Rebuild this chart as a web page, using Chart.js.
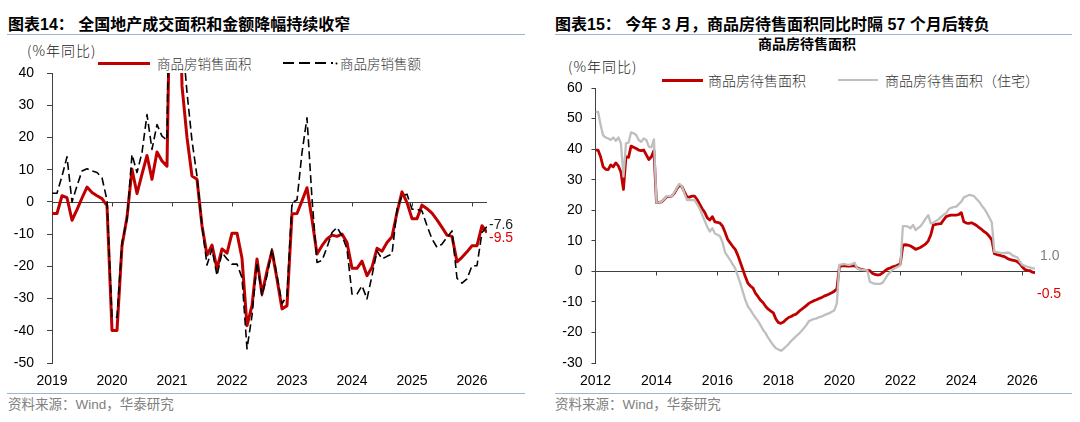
<!DOCTYPE html>
<html><head><meta charset="utf-8">
<script src="https://cdn.jsdelivr.net/npm/chart.js@4.4.1/dist/chart.umd.min.js"></script>
<style>
html,body{margin:0;padding:0;background:#fff;width:1080px;height:422px;overflow:hidden;font-family:"Liberation Sans","Noto Sans CJK SC",sans-serif;}
.abs{position:absolute;white-space:nowrap;}
.title{font-weight:bold;font-size:16px;line-height:16px;color:#000;}
.rule{position:absolute;height:1px;background:#9DB4D6;}
.unit{font-size:14px;line-height:14px;color:#222;letter-spacing:1px;font-family:"Noto Sans CJK SC",sans-serif;font-weight:300;}
.leg{font-size:13.5px;line-height:14px;color:#333;font-family:"Noto Sans CJK SC",sans-serif;font-weight:300;}
.src{font-size:13.5px;line-height:14px;color:#808080;}
.box{position:absolute;}
</style>
</head><body>
<div class="abs title" style="left:8px;top:17px;">图表14：&nbsp;全国地产成交面积和金额降幅持续收窄</div>
<div class="abs title" style="left:555px;top:17px;">图表15：&nbsp;今年 3 月，商品房待售面积同比时隔 57 个月后转负</div>
<div class="rule" style="left:7px;top:34px;width:518px;"></div>
<div class="rule" style="left:555px;top:34px;width:517px;"></div>
<div class="rule" style="left:7px;top:393px;width:518px;"></div>
<div class="rule" style="left:555px;top:393px;width:517px;"></div>
<div class="abs src" style="left:8px;top:398px;">资料来源：Wind，华泰研究</div>
<div class="abs src" style="left:555px;top:398px;">资料来源：Wind，华泰研究</div>

<div class="abs unit" style="left:27px;top:43px;">(%年同比)</div>
<div class="abs" style="left:98px;top:62px;width:52px;height:3px;background:#C00000;"></div>
<div class="abs leg" style="left:157px;top:56px;">商品房销售面积</div>
<svg class="abs" style="left:283px;top:58px;" width="56" height="10"><line x1="0" y1="5" x2="50" y2="5" stroke="#000" stroke-width="1.8" stroke-dasharray="11,5"/><circle cx="53.5" cy="5.5" r="1" fill="#000"/></svg>
<div class="abs leg" style="left:340px;top:56px;">商品房销售额</div>

<div class="abs" style="left:758px;top:37px;font-size:14px;line-height:14px;font-weight:bold;color:#000;">商品房待售面积</div>
<div class="abs unit" style="left:568px;top:59px;">(%年同比)</div>
<div class="abs" style="left:662px;top:79px;width:41px;height:3px;background:#C00000;"></div>
<div class="abs leg" style="left:708px;top:73px;font-size:14px;">商品房待售面积</div>
<div class="abs" style="left:838px;top:79px;width:40px;height:2px;background:#BFBFBF;"></div>
<div class="abs leg" style="left:885px;top:73px;font-size:14px;">商品房待售面积（住宅）</div>

<div class="box" style="left:0;top:60px;width:540px;height:330px;"><canvas id="c1"></canvas></div>
<div class="box" style="left:540px;top:75px;width:540px;height:315px;"><canvas id="c2"></canvas></div>

<script>
// ---------- Chart 14 data (monthly, from 2019-01) ----------
const years14 = ['2019','2020','2021','2022','2023','2024','2025','2026'];
const salesArea = [
 -3.6,-3.6,1.9,1.3,-5.7,-2.4,1.2,4.6,2.9,1.9,1.0,-1.2,
 -39.9,-39.9,-13.6,-4.8,10.1,2.6,8.6,14.4,7.0,15.5,12.7,11.1,
 104.9,104.9,36.0,20.0,8.0,7.0,-7.4,-16.5,-13.4,-20.8,-14.6,-15.9,
 -9.7,-9.7,-17.5,-38.4,-32.2,-17.7,-28.6,-21.5,-15.2,-23.9,-33.2,-32.2,
 -3.7,-3.6,0.3,4.4,-5.4,-16.2,-13.6,-11.5,-10.3,-10.7,-10.0,-12.6,
 -20.6,-20.6,-18.4,-22.9,-20.3,-14.4,-15.3,-12.6,-10.8,-3.3,3.1,-0.2,
 -5.2,-5.2,-1.0,-2.1,-3.5,-5.6,-7.9,-10.3,-10.7,-18.6,-17.2,-15.5,
 -13.6,-13.6,-7.4,-9.5];
const salesValue = [
 2.7,2.7,8.0,14.0,0.0,5.0,9.6,10.3,9.6,9.1,7.5,0.5,
 -35.8,-35.8,-12.6,-5.4,14.7,9.1,15.3,27.1,16.3,24.0,20.4,19.2,
 133.4,133.4,52.0,34.0,19.0,8.0,-7.4,-19.6,-14.6,-22.9,-15.7,-17.7,
 -19.3,-19.3,-23.5,-45.6,-35.3,-18.8,-29.1,-22.9,-14.6,-22.9,-31.6,-29.1,
 -0.2,0.6,15.3,26.1,1.0,-18.8,-18.2,-14.1,-9.5,-7.9,-10.5,-14.6,
 -28.6,-28.6,-26.0,-30.1,-22.9,-15.2,-17.7,-16.9,-16.2,-2.3,1.9,2.4,
 -2.3,-2.3,-2.8,-7.4,-11.5,-14.1,-13.1,-11.0,-9.0,-23.7,-25.2,-23.9,
 -19.8,-19.8,-9.5,-7.6];

// ---------- Chart 15 data (monthly, from 2012-01) ----------
const years15 = ['2012','2014','2016','2018','2020','2022','2024','2026'];
const unsoldArea = [
 39.7,39.7,37.5,34.2,33.4,33.3,34.8,34.2,35.5,34.5,32.5,26.8,
 37.5,37.3,41.0,40.6,40.2,39.7,39.5,39.7,38.1,36.6,37.5,39.5,
 22.5,22.6,22.7,23.5,24.4,24.5,24.6,25.5,27.0,28.2,27.8,26.0,
 24.4,24.3,24.6,24.6,23.5,22.0,20.5,19.3,17.5,16.8,17.9,16.2,
 16.0,15.8,14.8,12.8,10.5,9.3,8.2,7.2,5.3,3.0,0.6,-1.8,
 -3.9,-4.8,-5.5,-7.2,-8.3,-9.5,-10.3,-11.5,-12.4,-13.0,-13.6,-15.6,
 -16.8,-17.0,-16.6,-15.8,-15.1,-14.8,-14.3,-14.0,-13.2,-12.5,-11.9,-11.2,
 -10.5,-10.0,-9.6,-9.3,-8.9,-8.6,-8.1,-7.8,-7.4,-7.0,-6.5,-5.8,
 1.5,1.8,1.9,1.7,1.7,1.8,1.9,1.2,0.8,0.6,0.4,0.3,
 0.2,-0.6,-1.0,-1.2,-1.1,-0.5,0.2,0.8,1.1,1.5,1.7,2.1,
 2.5,8.6,8.7,8.6,8.3,7.8,7.2,7.5,7.9,8.4,9.0,10.0,
 12.0,15.2,15.4,15.5,15.6,16.8,17.9,18.2,18.4,18.4,18.4,18.6,
 19.2,16.2,15.8,15.7,15.9,15.5,15.0,14.3,13.7,13.0,12.4,11.5,
 10.3,5.8,5.5,5.3,5.0,4.8,4.3,3.9,3.7,3.5,3.2,2.5,
 1.5,0.6,0.3,0.2,-0.3,-0.5];
const unsoldResidential = [
 52.2,52.2,48.0,44.5,43.8,43.5,43.0,43.8,42.7,43.8,41.9,31.0,
 41.9,42.1,45.5,45.2,44.6,43.0,42.4,43.5,43.0,40.8,40.6,43.2,
 22.5,22.6,22.8,23.6,24.6,24.6,24.6,25.8,27.2,28.6,27.9,25.5,
 23.3,23.3,23.3,23.3,22.0,20.5,18.5,16.5,14.5,13.0,14.1,12.4,
 12.0,11.5,9.5,6.2,5.0,3.7,2.3,1.0,-1.5,-3.9,-6.7,-9.4,
 -11.5,-12.6,-14.0,-15.2,-16.3,-17.7,-19.2,-20.3,-21.8,-23.0,-24.2,-25.2,
 -25.6,-26.0,-25.4,-24.6,-23.8,-22.8,-22.0,-21.2,-20.5,-19.6,-18.6,-17.6,
 -16.3,-15.9,-15.6,-15.4,-15.0,-14.8,-14.4,-14.0,-13.7,-13.2,-12.8,-10.5,
 2.1,2.3,2.4,2.2,2.1,2.4,2.8,1.0,0.6,0.5,0.4,0.3,
 -3.4,-3.8,-4.1,-4.1,-4.1,-3.8,-2.5,-1.2,-0.3,0.6,1.1,1.5,
 2.0,14.8,14.8,14.6,14.1,15.2,13.5,14.2,14.8,16.0,17.3,18.4,
 15.7,15.9,16.5,17.0,17.8,18.5,19.0,20.3,20.8,21.0,21.2,22.0,
 22.8,24.2,24.6,25.0,24.9,24.6,23.7,22.8,21.6,20.5,19.2,17.6,
 16.0,6.4,6.3,6.1,5.9,6.0,6.1,6.0,5.3,4.9,4.6,3.2,
 2.1,1.8,1.5,1.3,1.0,1.0];

// month categories (index positions)
function monthLabels(startYear, n){ const a=[]; for(let i=0;i<n;i++){ a.push((startYear+Math.floor(i/12))+'-'+String(i%12+1).padStart(2,'0')); } return a; }
const months14 = monthLabels(2019, salesArea.length);
const months15 = monthLabels(2012, unsoldArea.length);
const pts = (cats, vals) => vals.map((v,i)=>({x:i, y:v, m:cats[i]}));

const NUMFONT = {family:'"Liberation Sans", Arial, sans-serif', size:14};

const refLines = {
  id:'refLines',
  beforeDatasetsDraw(chart, args, opts){
    const {ctx, chartArea, scales:{x,y}} = chart;
    const y0 = Math.round(y.getPixelForValue(0)) + 0.5;
    ctx.save();
    ctx.strokeStyle = '#404040'; ctx.lineWidth = 1;
    ctx.beginPath();
    ctx.moveTo(chartArea.left, y0); ctx.lineTo(chartArea.right, y0);
    (opts.ticks||[]).forEach(t=>{ const px = Math.round(x.getPixelForValue(t))+0.5; ctx.moveTo(px,y0); ctx.lineTo(px,y0+4); });
    ctx.stroke(); ctx.restore();
  },
  afterDatasetsDraw(chart, args, opts){
    const {ctx, scales:{x,y}} = chart;
    ctx.save();
    ctx.font = '14px "Liberation Sans", Arial, sans-serif';
    ctx.textBaseline = 'middle'; ctx.textAlign = 'left';
    (opts.labels||[]).forEach(l=>{
      const d = chart.data.datasets[l.ds].data;
      const last = d[d.length-1];
      ctx.fillStyle = l.color;
      ctx.fillText(l.text, x.getPixelForValue(last.x)+l.dx, y.getPixelForValue(last.y)+l.dy);
    });
    ctx.restore();
  }
};

function makeChart(id, cfg){
  return new Chart(document.getElementById(id), {
    type:'line',
    data:{datasets:cfg.datasets},
    options:{
      responsive:true, maintainAspectRatio:false, animation:false,
      layout:{padding:{left:0, right:cfg.padRight, top:13, bottom:0}},
      plugins:{legend:{display:false}, tooltip:{enabled:false}, refLines:cfg.ref},
      elements:{point:{radius:0}, line:{tension:0, borderJoinStyle:'round'}},
      scales:{
        x:{type:'linear', min:0, max:cfg.xmax,
           grid:{display:false, drawTicks:false}, border:{display:false},
           ticks:{stepSize:cfg.step, includeBounds:false, autoSkip:false, maxRotation:0, minRotation:0,
                  padding:10, color:'#000', font:NUMFONT,
                  callback:(v)=>{ const k=v/cfg.step; return Number.isInteger(k)&&cfg.years[k]?cfg.years[k]:''; }},
           afterFit:(s)=>{ s.height = 27; s.paddingLeft = 0; s.paddingRight = 0; }},
        y:{min:cfg.ymin, max:cfg.ymax,
           grid:{drawOnChartArea:false, drawTicks:true, tickLength:cfg.tickLen, color:'#404040'},
           border:{display:true, color:'#404040', width:1},
           ticks:{stepSize:10, padding:cfg.yPad, color:'#000', font:NUMFONT},
           afterFit:(s)=>{ s.width = cfg.yWidth; s.paddingTop = 0; s.paddingBottom = 0; }}
      }
    },
    plugins:[refLines]
  });
}

makeChart('c1', {
  xmax: salesArea.length-1, step:12, years:years14, ymin:-50, ymax:40,
  padRight:53, yWidth:52, tickLen:5, yPad:13,
  datasets:[
    {label:'商品房销售面积', data:pts(months14, salesArea), borderColor:'#C00000', borderWidth:3, order:1},
    {label:'商品房销售额', data:pts(months14, salesValue), borderColor:'#000000', borderWidth:1.6, borderDash:[8,4], order:0}
  ],
  ref:{ticks:[12,24,36,48,60,72,84], labels:[
    {ds:1, text:'-7.6', color:'#222', dx:2, dy:-1},
    {ds:0, text:'-9.5', color:'#E00000', dx:2, dy:6}
  ]}
});

makeChart('c2', {
  xmax: unsoldArea.length-1, step:24, years:years15, ymin:-30, ymax:60,
  padRight:45, yWidth:55.5, tickLen:4, yPad:9,
  datasets:[
    {label:'商品房待售面积', data:pts(months15, unsoldArea), borderColor:'#C00000', borderWidth:2.8, order:1},
    {label:'商品房待售面积（住宅）', data:pts(months15, unsoldResidential), borderColor:'#BFBFBF', borderWidth:2.3, order:0}
  ],
  ref:{ticks:[24,48,72,96,120,144,168], labels:[
    {ds:1, text:'1.0', color:'#808080', dx:5, dy:-12},
    {ds:0, text:'-0.5', color:'#E00000', dx:2, dy:21}
  ]}
});
</script>
</body></html>
